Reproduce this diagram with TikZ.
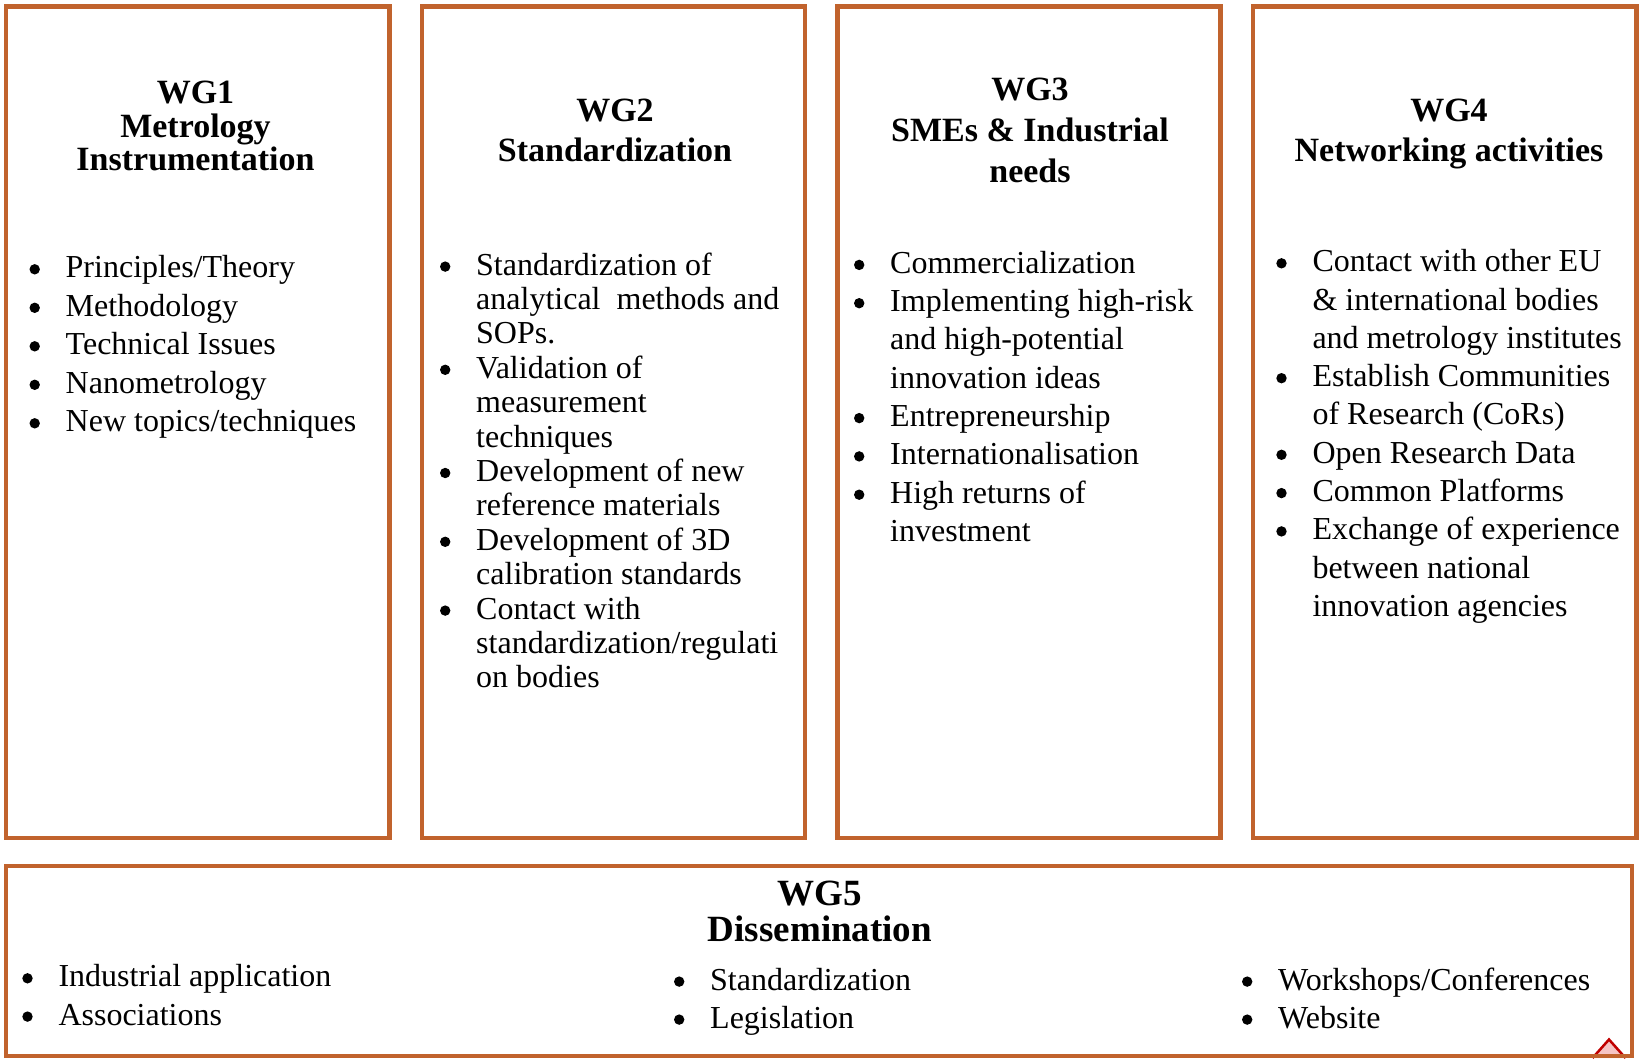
\documentclass[tikz,border=0pt]{standalone}
\usepackage{fontspec}
\setmainfont{Liberation Serif}
\definecolor{wgorange}{RGB}{193,99,45}
\definecolor{trired}{RGB}{192,0,0}
\definecolor{tripink}{RGB}{246,196,196}
\newcommand\blt{\leavevmode\llap{\tikz[baseline=0pt]\fill[black] (0pt,8.4pt) circle[radius=5.2pt];\hspace{25.8pt}}}
\tikzset{
  wgbox/.style={draw=wgorange, line width=4.5pt, inner sep=0pt},
  wgtitle/.style={inner sep=0pt, anchor=base},
  wgbody/.style={inner sep=0pt, anchor=base west}
}
\begin{document}
\begin{tikzpicture}[x=1pt,y=-1pt]
\useasboundingbox (0,0) rectangle (1639,1058);
% corner triangle
\draw[draw=trired, fill=tripink, line width=2.5pt, line join=miter] (1592.5,1058) -- (1609,1039.5) -- (1625.5,1058);
% boxes
\node[wgbox, minimum width=383.5pt, minimum height=831.5pt] (wg1) at (197.75,422.25) {};
\node[wgbox, minimum width=383pt, minimum height=831.5pt] (wg2) at (613.5,422.25) {};
\node[wgbox, minimum width=383pt, minimum height=831.5pt] (wg3) at (1029,422.25) {};
\node[wgbox, minimum width=383.5pt, minimum height=831.5pt] (wg4) at (1444.75,422.25) {};
\node[wgbox, minimum width=1626pt, minimum height=190pt] (wg5) at (819,961) {};
% titles
\node[wgtitle] (t1) at (195.5,103.5) {\parbox[t]{380pt}{\centering\fontsize{34}{33.7}\selectfont\bfseries WG1\\ Metrology\\ Instrumentation}};
\node[wgtitle] (t2) at (615,121.7) {\parbox[t]{380pt}{\centering\fontsize{34}{39.5}\selectfont\bfseries WG2\\ Standardization}};
\node[wgtitle] (t3) at (1030,100) {\parbox[t]{380pt}{\centering\fontsize{34}{41}\selectfont\bfseries WG3\\ SMEs \& Industrial\\ needs}};
\node[wgtitle] (t4) at (1449,121.7) {\parbox[t]{380pt}{\centering\fontsize{34}{39.5}\selectfont\bfseries WG4\\ Networking activities}};
\node[wgtitle] (t5) at (820,905) {\parbox[t]{400pt}{\centering\fontsize{37}{36.7}\selectfont\bfseries WG5\\ Dissemination}};
% bodies
\node[wgbody] (b1) at (65.5,277.7) {\parbox[t]{330pt}{\raggedright\fontsize{32}{38.5}\selectfont
\blt Principles/Theory\\
\blt Methodology\\
\blt Technical Issues\\
\blt Nanometrology\\
\blt New topics/techniques}};
\node[wgbody] (b2) at (476,275) {\parbox[t]{330pt}{\raggedright\fontsize{32}{34.4}\selectfont
\blt Standardization of\\
analytical\ \ methods and\\
SOPs.\\
\blt Validation of\\
measurement\\
techniques\\
\blt Development of new\\
reference materials\\
\blt Development of 3D\\
calibration standards\\
\blt Contact with\\
standardization/regulati\\
on bodies}};
\node[wgbody] (b3) at (890,273.3) {\parbox[t]{330pt}{\raggedright\fontsize{32}{38.3}\selectfont
\blt Commercialization\\
\blt Implementing high-risk\\
and high-potential\\
innovation ideas\\
\blt Entrepreneurship\\
\blt Internationalisation\\
\blt High returns of\\
investment}};
\node[wgbody] (b4) at (1312.3,271.7) {\parbox[t]{330pt}{\raggedright\fontsize{32}{38.3}\selectfont
\blt Contact with other EU\\
\& international bodies\\
and metrology institutes\\
\blt Establish Communities\\
of Research (CoRs)\\
\blt Open Research Data\\
\blt Common Platforms\\
\blt Exchange of experience\\
between national\\
innovation agencies}};
\node[wgbody] (b5a) at (58.3,986.7) {\parbox[t]{400pt}{\raggedright\fontsize{32}{38.3}\selectfont
\blt Industrial application\\
\blt Associations}};
\node[wgbody] (b5b) at (710,990) {\parbox[t]{400pt}{\raggedright\fontsize{32}{38}\selectfont
\blt Standardization\\
\blt Legislation}};
\node[wgbody] (b5c) at (1278,990) {\parbox[t]{340pt}{\raggedright\fontsize{32}{38}\selectfont
\blt Workshops/Conferences\\
\blt Website}};
\end{tikzpicture}
\end{document}
